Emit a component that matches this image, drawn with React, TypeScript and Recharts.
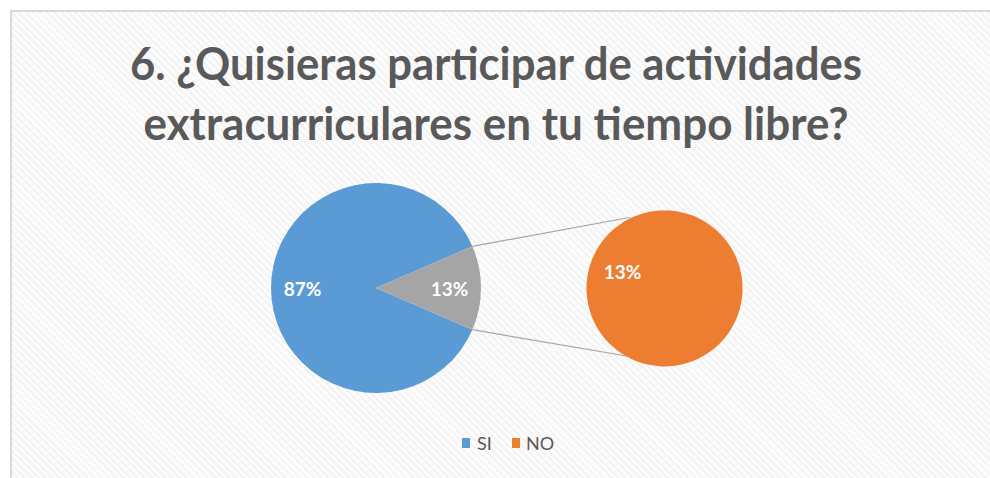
import React from 'react';
import { PieChart, Pie, Cell, Customized } from 'recharts';

const categories = ['SI', 'NO'];
const values = [87, 13];
const mainColors = ['#5B9BD5', '#A5A5A5'];
const legendColors = ['#5B9BD5', '#ED7D31'];
const secondaryColor = '#ED7D31';
const titleLines = ['6. ¿Quisieras participar de actividades', 'extracurriculares en tu tiempo libre?'];

const total = values.reduce((a, b) => a + b, 0);
const mainData = categories.map((c, i) => ({ name: c, value: values[i] }));
const secondaryData = [{ name: categories[1], value: values[1] }];

const W = 990;
const H = 478;
const MAIN = { cx: 376, cy: 288, r: 105 };
const SEC = { cx: 665, cy: 287, r: 78 };
const halfAngle = (values[1] / total) * 180;
const RAD = Math.PI / 180;
const FONT = 'Lato, "Open Sans", sans-serif';

const makeLabel = (factor: number) => (props: any) => {
  const { cx, cy, midAngle, outerRadius, value } = props;
  const r = outerRadius * factor;
  const x = cx + r * Math.cos(-midAngle * RAD);
  const y = cy + r * Math.sin(-midAngle * RAD);
  return (
    <text x={x} y={y} fill="#ffffff" fontFamily={FONT} fontWeight={700} fontSize={19}
      textAnchor="middle" dominantBaseline="central">
      {Math.round((value / total) * 100) + '%'}
    </text>
  );
};

const Decor = () => {
  const connAngle = 117;
  const p1 = { x: MAIN.cx + MAIN.r * Math.cos(halfAngle * RAD), y: MAIN.cy - MAIN.r * Math.sin(halfAngle * RAD) };
  const p2 = { x: MAIN.cx + MAIN.r * Math.cos(halfAngle * RAD), y: MAIN.cy + MAIN.r * Math.sin(halfAngle * RAD) };
  const q1 = { x: SEC.cx + SEC.r * Math.cos(connAngle * RAD), y: SEC.cy - SEC.r * Math.sin(connAngle * RAD) };
  const q2 = { x: SEC.cx + SEC.r * Math.cos(connAngle * RAD), y: SEC.cy + SEC.r * Math.sin(connAngle * RAD) };
  const legendX = [462, 512];
  const legendTextX = [477, 526];
  return (
    <g>
      <text x={496} y={80} fill="#595959" fontFamily={FONT} fontWeight={700} fontSize={46}
        textAnchor="middle" textLength={732} lengthAdjust="spacingAndGlyphs">{titleLines[0]}</text>
      <text x={496} y={140} fill="#595959" fontFamily={FONT} fontWeight={700} fontSize={46}
        textAnchor="middle" textLength={705} lengthAdjust="spacingAndGlyphs">{titleLines[1]}</text>
      <line x1={p1.x} y1={p1.y} x2={q1.x} y2={q1.y} stroke="#A6A6A6" strokeWidth={1.2} />
      <line x1={p2.x} y1={p2.y} x2={q2.x} y2={q2.y} stroke="#A6A6A6" strokeWidth={1.2} />
      {categories.map((c, i) => (
        <g key={c}>
          <rect x={legendX[i]} y={438} width={8} height={10} fill={legendColors[i]} />
          <text x={legendTextX[i]} y={450} fill="#595959" fontFamily={FONT} fontSize={18}>{c}</text>
        </g>
      ))}
    </g>
  );
};

export default function App() {
  return (
    <div style={{ position: 'absolute', left: 0, top: 0, width: W, height: H, overflow: 'hidden', background: '#ffffff' }}>
      <div style={{
        position: 'absolute', left: 10, top: 10, width: W - 10, height: H - 10, boxSizing: 'border-box',
        borderLeft: '2px solid #d9d9d9', borderTop: '2px solid #d9d9d9',
        background: 'repeating-linear-gradient(45deg, #fcfcfc 0px, #fcfcfc 3px, #f3f3f3 3px, #f3f3f3 5px)',
      }} />
      <div style={{ position: 'absolute', left: 0, top: 0 }}>
        <PieChart width={W} height={H} margin={{ top: 0, right: 0, bottom: 0, left: 0 }}>
          <Customized component={<Decor />} />
          <Pie data={mainData} dataKey="value" nameKey="name" cx={MAIN.cx} cy={MAIN.cy}
            outerRadius={MAIN.r} innerRadius={0} startAngle={halfAngle} endAngle={halfAngle + 360}
            stroke="none" isAnimationActive={false} labelLine={false} label={makeLabel(0.7)}>
            {mainData.map((d, i) => <Cell key={d.name} fill={mainColors[i]} />)}
          </Pie>
          <Pie data={secondaryData} dataKey="value" nameKey="name" cx={SEC.cx} cy={SEC.cy}
            outerRadius={SEC.r} innerRadius={0} startAngle={-20} endAngle={340}
            stroke="none" isAnimationActive={false} labelLine={false} label={makeLabel(0.58)}>
            {secondaryData.map((d) => <Cell key={d.name} fill={secondaryColor} />)}
          </Pie>
        </PieChart>
      </div>
    </div>
  );
}
